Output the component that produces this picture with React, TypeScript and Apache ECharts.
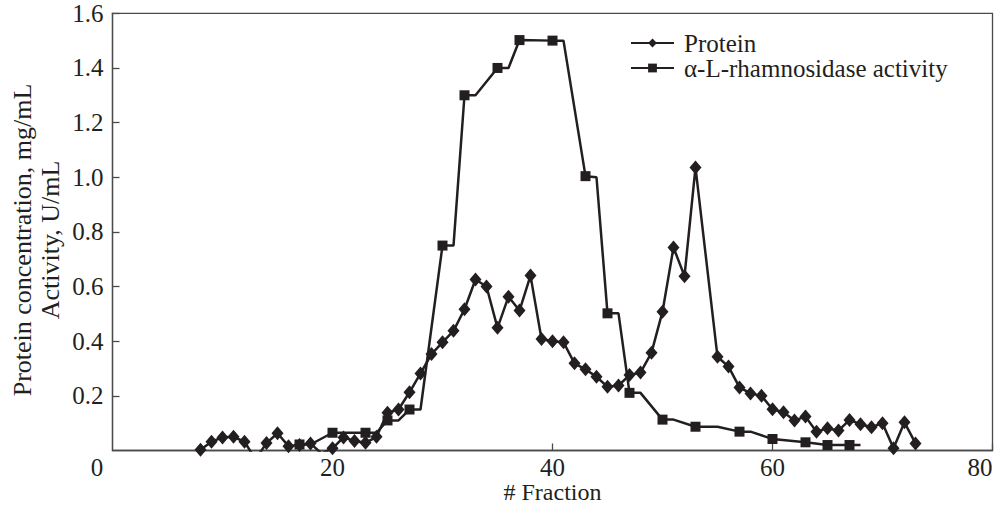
import React, { useEffect, useRef } from "react";
import * as echarts from "echarts";

// Protein concentration (mg/mL) per fraction
const proteinFractions = [
  8, 9, 10, 11, 12, 13, 14, 15, 16, 17, 18, 19, 20, 21, 22, 23, 24, 25, 26, 27, 28, 29, 30,
  31, 32, 33, 34, 35, 36, 37, 38, 39, 40, 41, 42, 43, 44, 45, 46, 47, 48, 49, 50, 51, 52, 53,
  55, 56, 57, 58, 59, 60, 61, 62, 63, 64, 65, 66, 67, 68, 69, 70, 71, 72, 73,
];
const proteinValues = [
  0.003, 0.032, 0.048, 0.05, 0.032, -0.032, 0.027, 0.063, 0.016, 0.02, 0.026, -0.011, 0.008,
  0.048, 0.035, 0.028, 0.05, 0.138, 0.15, 0.213, 0.282, 0.353, 0.396, 0.438, 0.517, 0.626, 0.6,
  0.449, 0.563, 0.512, 0.64, 0.408, 0.4, 0.396, 0.319, 0.297, 0.27, 0.233, 0.238, 0.276, 0.285,
  0.358, 0.508, 0.743, 0.638, 1.036, 0.343, 0.307, 0.231, 0.209, 0.2, 0.151, 0.14, 0.11, 0.124,
  0.069, 0.081, 0.073, 0.112, 0.096, 0.085, 0.1, 0.008, 0.103, 0.026,
];

// α-L-rhamnosidase activity (U/mL); marked = 1 where a square marker is drawn
const activityFractions = [
  17, 18, 20, 21, 23, 24, 25, 26, 27, 28, 30, 31, 32, 33, 35, 36, 37, 40, 41, 43, 44, 45, 46, 47,
  48, 50, 51, 53, 54, 55, 57, 58, 60, 63, 65, 67, 68,
];
const activityValues = [
  0.022, 0.022, 0.065, 0.065, 0.065, 0.065, 0.11, 0.11, 0.15, 0.15, 0.75, 0.75, 1.3, 1.3, 1.4,
  1.4, 1.502, 1.5, 1.5, 1.004, 1.0, 0.502, 0.502, 0.211, 0.211, 0.113, 0.113, 0.087, 0.087, 0.087,
  0.069, 0.069, 0.042, 0.03, 0.02, 0.02, 0.02,
];
const activityMarked = [
  1, 0, 1, 0, 1, 0, 1, 0, 1, 0, 1, 0, 1, 0, 1, 0, 1, 1, 0, 1, 0, 1, 0, 1, 0, 1, 0, 1, 0, 0, 1, 0,
  1, 1, 1, 1, 0,
];

const seriesNames = ["Protein", "α-L-rhamnosidase activity"];
const yAxisName = "Protein concentration, mg/mL\nActivity, U/mL";
const xAxisName = "# Fraction";

const INK = "#231f20";
const AXIS = "#4a4a4a";
const FONT = "'Liberation Serif', 'Times New Roman', serif";

export default function App() {
  const ref = useRef<HTMLDivElement>(null);

  useEffect(() => {
    if (!ref.current) return;
    const chart = echarts.init(ref.current, undefined, { renderer: "svg" });

    const proteinData = proteinFractions.map((x, i) => [x, proteinValues[i]]);
    const activityData = activityFractions.map((x, i) => ({
      value: [x, activityValues[i]],
      symbol: activityMarked[i] ? "rect" : "none",
    }));

    chart.setOption({
      animation: false,
      textStyle: { fontFamily: FONT, color: INK },
      grid: {
        left: 112.5,
        right: 1.5,
        top: 13.3,
        bottom: 54.5,
        outerBoundsMode: "none",
        containLabel: false,
        show: true,
        borderColor: AXIS,
        borderWidth: 1.3,
        backgroundColor: "transparent",
      },
      legend: {
        data: seriesNames,
        orient: "vertical",
        left: 630,
        top: 30.5,
        itemWidth: 43,
        itemHeight: 11,
        itemGap: 0,
        padding: 0,
        textStyle: { fontFamily: FONT, fontSize: 25, color: INK, padding: [0, 0, 0, 5] },
      },
      xAxis: {
        type: "value",
        min: 0,
        max: 80,
        interval: 20,
        name: xAxisName,
        nameLocation: "middle",
        nameGap: 29,
        nameMoveOverlap: false,
        nameTextStyle: { fontFamily: FONT, fontSize: 24, color: INK },
        axisLine: { show: true, lineStyle: { color: AXIS, width: 1.3 } },
        axisTick: { show: true, inside: true, length: 7, lineStyle: { color: AXIS, width: 1.3 } },
        axisLabel: {
          fontFamily: FONT,
          fontSize: 25,
          color: INK,
          margin: 4,
          showMinLabel: false,
          alignMaxLabel: "right",
        },
        splitLine: { show: false },
      },
      yAxis: {
        type: "value",
        min: 0,
        max: 1.6,
        interval: 0.2,
        axisLine: { show: true, lineStyle: { color: AXIS, width: 1.3 } },
        axisTick: { show: true, inside: true, length: 7, lineStyle: { color: AXIS, width: 1.3 } },
        axisLabel: {
          fontFamily: FONT,
          fontSize: 25,
          color: INK,
          margin: 9,
          showMinLabel: false,
          formatter: (v: number) => v.toFixed(1),
        },
        splitLine: { show: false },
      },
      graphic: [
        {
          type: "text",
          x: 97,
          y: 467,
          style: {
            text: "0",
            fontFamily: FONT,
            fontSize: 25,
            fill: INK,
            align: "center",
            verticalAlign: "middle",
          },
        },
        {
          type: "text",
          x: 36,
          y: 240,
          rotation: Math.PI / 2,
          style: {
            text: yAxisName,
            fontFamily: FONT,
            fontSize: 26,
            lineHeight: 28,
            fill: INK,
            align: "center",
            verticalAlign: "middle",
          },
        },
      ],
      series: [
        {
          name: seriesNames[0],
          type: "line",
          data: proteinData,
          symbol: "diamond",
          symbolSize: [12, 14],
          itemStyle: { color: INK, borderWidth: 0 },
          lineStyle: { color: INK, width: 2.5 },
          z: 2,
        },
        {
          name: seriesNames[1],
          type: "line",
          data: activityData,
          symbol: "rect",
          symbolSize: 10,
          itemStyle: { color: INK, borderWidth: 0 },
          lineStyle: { color: INK, width: 2.5 },
          z: 3,
        },
      ],
    });

    return () => chart.dispose();
  }, []);

  return <div ref={ref} style={{ width: 994, height: 505, position: "absolute", left: 0, top: 0 }} />;
}
